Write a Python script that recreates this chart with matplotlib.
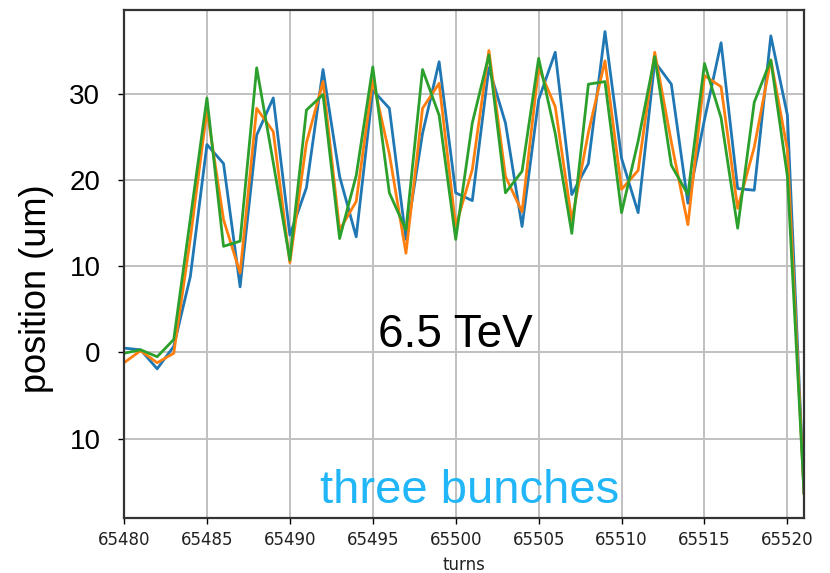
import numpy as np
import matplotlib
matplotlib.use("Agg")
import matplotlib.pyplot as plt

# turn numbers (one sample per turn)
turns = list(range(65480, 65522))

# beam position per bunch (um)
bunch_1 = [0.5, 0.3, -1.9, 0.7, 8.8, 24.1, 21.9, 7.6, 25.2, 29.5,
           13.6, 19.1, 32.8, 20.4, 13.4, 30.4, 28.3, 13.1, 25.4, 33.7,
           18.5, 17.6, 33.0, 26.6, 14.6, 29.3, 34.8, 18.3, 21.9, 37.2,
           22.5, 16.2, 33.7, 31.1, 17.3, 27.0, 35.9, 19.0, 18.8, 36.7,
           27.5, -16.3]
bunch_2 = [-1.2, 0.2, -1.2, -0.1, 13.2, 28.1, 15.4, 9.2, 28.3, 25.6,
           10.4, 24.3, 31.4, 14.2, 17.5, 31.6, 23.0, 11.5, 28.3, 31.2,
           14.6, 21.2, 35.0, 20.4, 16.3, 33.0, 28.5, 15.3, 25.5, 33.8,
           18.9, 21.1, 34.8, 24.4, 14.8, 32.1, 30.8, 16.7, 23.8, 33.9,
           23.5, -16.3]
bunch_3 = [-0.1, 0.3, -0.5, 1.5, 15.5, 29.5, 12.3, 12.9, 33.0, 22.0,
           10.7, 28.1, 29.9, 13.2, 20.5, 33.1, 18.5, 14.2, 32.8, 27.5,
           13.1, 26.6, 34.5, 18.5, 21.0, 34.1, 25.4, 13.8, 31.1, 31.4,
           16.2, 24.5, 34.3, 21.7, 18.3, 33.5, 27.2, 14.4, 29.0, 33.9,
           20.4, -16.3]

ytick_vals = [-10, 0, 10, 20, 30]
ytick_text = ["10", "0", "10", "20", "30"]
xtick_vals = [65480, 65485, 65490, 65495, 65500, 65505, 65510, 65515, 65520]

W, H = 830, 573
fig = plt.figure(figsize=(W / 100, H / 100), dpi=100)
ax = fig.add_axes([124 / W, 1 - 518 / H, (804 - 124) / W, (518 - 10) / H])

ax.plot(turns, bunch_1, color="#1f77b4", lw=2.0)
ax.plot(turns, bunch_2, color="#ff7f0e", lw=2.0)
ax.plot(turns, bunch_3, color="#2ca02c", lw=2.0)

ax.set_xlim(65480, 65521)
ax.set_ylim(-19.2, 39.7)
ax.grid(True, color="#c0c0c0", lw=1.4)
ax.set_axisbelow(True)

ax.set_xticks(xtick_vals)
ax.set_xticklabels([str(v) for v in xtick_vals], fontsize=12, family="DejaVu Sans", color="#222222")
ax.set_yticks(ytick_vals)
ax.set_yticklabels(ytick_text, fontsize=20, family="Liberation Sans")
ax.tick_params(axis="x", length=4.3, width=1.0, pad=5)
ax.tick_params(axis="y", length=4, width=1.0, pad=13)

for side in ["left", "right", "top", "bottom"]:
    ax.spines[side].set_linewidth(1.6)
    ax.spines[side].set_color("#333333")

fig.text(464 / W, 1 - 565 / H, "turns", ha="center", va="center",
         fontsize=12, family="DejaVu Sans", color="#222222")
fig.text(37 / W, 1 - 289 / H, "position (um)", rotation=90, ha="center", va="center",
         fontsize=26, family="Liberation Sans")
fig.text(455 / W, 1 - 347 / H, "6.5 TeV", ha="center", va="baseline",
         fontsize=33, family="Liberation Sans", color="black")
fig.text(470 / W, 1 - 503 / H, "three bunches", ha="center", va="baseline",
         fontsize=34, family="Liberation Sans", color="#20b6f8")

fig.savefig("out.png", dpi=100)
